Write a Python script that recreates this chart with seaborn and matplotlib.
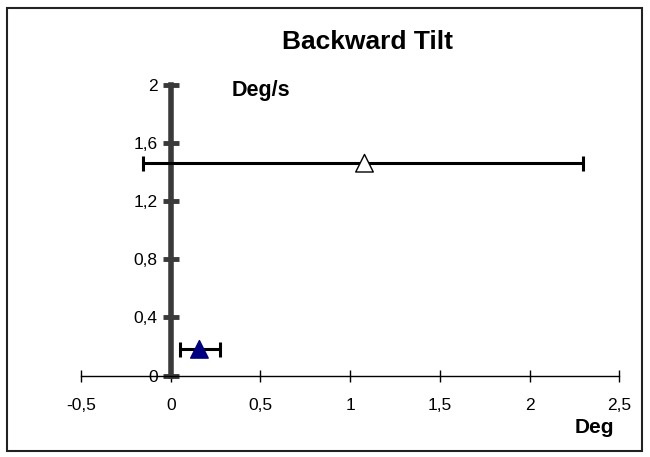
import matplotlib
matplotlib.use('Agg')
import matplotlib.pyplot as plt
import seaborn as sns
import pandas as pd
from matplotlib.patches import Rectangle

# data
conditions = ['open', 'filled']
x_mean = [1.08, 0.16]
y_mean = [1.46, 0.18]
x_low = [-0.153, 0.052]
x_high = [2.30, 0.275]

x_ticks = [-0.5, 0, 0.5, 1, 1.5, 2, 2.5]
x_tick_labels = ['-0,5', '0', '0,5', '1', '1,5', '2', '2,5']
y_ticks = [0, 0.4, 0.8, 1.2, 1.6, 2]
y_tick_labels = ['0', '0,4', '0,8', '1,2', '1,6', '2']

df = pd.DataFrame({'cond': conditions, 'x': x_mean, 'y': y_mean,
                   'lo': x_low, 'hi': x_high})

sns.set_style('white')
plt.rcParams['font.family'] = ['Liberation Sans', 'DejaVu Sans']
plt.rcParams['text.color'] = 'black'
plt.rcParams['xtick.labelcolor'] = 'black'
plt.rcParams['ytick.labelcolor'] = 'black'

fig = plt.figure(figsize=(6.5, 4.57), dpi=100)
ax = fig.add_axes([81 / 650, (457 - 375.5) / 457, (619.3 - 81) / 650, (375.5 - 84.7) / 457])

# error bars
for _, r in df.iterrows():
    ax.errorbar(r['x'], r['y'], xerr=[[r['x'] - r['lo']], [r['hi'] - r['x']]],
                fmt='none', ecolor='black', elinewidth=2.2, capsize=5.4,
                capthick=2.2, zorder=3)

sns.scatterplot(data=df, x='x', y='y', hue='cond', style='cond',
                palette={'open': 'white', 'filled': '#000080'},
                markers={'open': '^', 'filled': '^'},
                edgecolor='black', linewidth=1.0, s=160, legend=False,
                zorder=4, ax=ax)
# filled marker has no dark outline in the reference
ax.collections[-1].set_edgecolors(['black', '#000080'])

ax.set_xlim(-0.5, 2.5)
ax.set_ylim(0, 2)

ax.spines['left'].set_position(('data', 0))
ax.spines['bottom'].set_position(('data', 0))
ax.spines['right'].set_visible(False)
ax.spines['top'].set_visible(False)
ax.spines['left'].set_color('#3a3a3a')
ax.spines['left'].set_linewidth(4)
ax.spines['left'].set_zorder(2)
ax.spines['bottom'].set_color('black')
ax.spines['bottom'].set_linewidth(1)

ax.set_xticks(x_ticks)
ax.set_xticklabels(x_tick_labels)
ax.set_yticks(y_ticks)
ax.set_yticklabels(y_tick_labels)
ax.tick_params(axis='x', direction='inout', length=8, width=1, color='black',
               pad=12, labelsize=12.5, labelcolor='black', bottom=True)
ax.tick_params(axis='y', direction='inout', length=11, width=3.5, color='#3a3a3a',
               pad=4, labelsize=12.5, labelcolor='black', left=True)
ax.set_xlabel('')
ax.set_ylabel('')
ax.grid(False)

fig.text(368 / 650, 1 - 42 / 457, 'Backward Tilt', ha='center', va='center',
         fontsize=19, fontweight='bold', color='black')
fig.text(232 / 650, 1 - 96 / 457, 'Deg/s', ha='left', va='baseline',
         fontsize=15.5, fontweight='bold', color='black')
fig.text(575 / 650, 1 - 433 / 457, 'Deg', ha='left', va='baseline',
         fontsize=15, fontweight='bold', color='black')

fig.patches.append(Rectangle((7 / 650, 1 - 451 / 457), 635 / 650, 443 / 457,
                             transform=fig.transFigure, fill=False,
                             edgecolor='#222222', linewidth=1.5))

fig.savefig('out.png', dpi=100)
